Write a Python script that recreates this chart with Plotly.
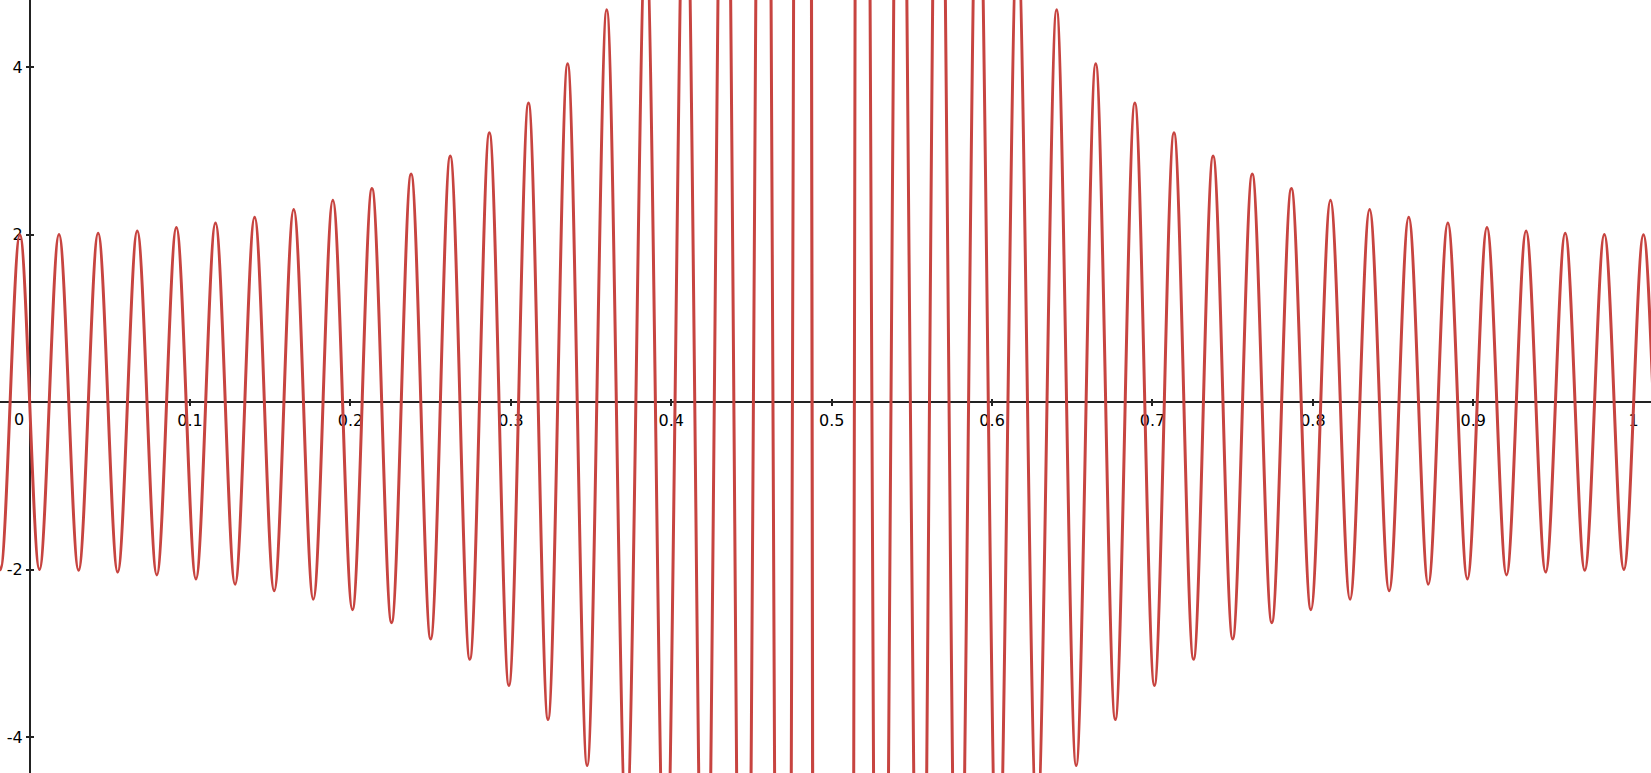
import plotly.graph_objects as go

# Extrema of the oscillating curve (x, y);
# peaks that leave the visible window were estimated from the growth trend.
peak_x = [
    -0.03049, -0.01829, -0.00610, 0.00610, 0.01829, 0.03049, 0.04268, 0.05488,
    0.06707, 0.07927, 0.09146, 0.10366, 0.11585, 0.12805, 0.14024, 0.15244,
    0.16463, 0.17683, 0.18902, 0.20122, 0.21341, 0.22561, 0.23780, 0.25000,
    0.26220, 0.27439, 0.28659, 0.29878, 0.31098, 0.32317, 0.33537, 0.34756,
    0.35976, 0.37195, 0.38415, 0.39634, 0.40870, 0.42092, 0.43315, 0.44540,
    0.45767, 0.47001, 0.48256, 0.50000, 0.51744, 0.52999, 0.54233, 0.55460,
    0.56685, 0.57908, 0.59130, 0.60366, 0.61585, 0.62805, 0.64024, 0.65244,
    0.66463, 0.67683, 0.68902, 0.70122, 0.71341, 0.72561, 0.73780, 0.75000,
    0.76220, 0.77439, 0.78659, 0.79878, 0.81098, 0.82317, 0.83537, 0.84756,
    0.85976, 0.87195, 0.88415, 0.89634, 0.90854, 0.92073, 0.93293, 0.94512,
    0.95732, 0.96951, 0.98171, 0.99390, 1.00610, 1.01829, 1.03049,
]
peak_y = [
    2.009, -2.003, 2.000, -2.000, 2.003, -2.009, 2.018, -2.030,
    2.045, -2.064, 2.086, -2.111, 2.140, -2.174, 2.211, -2.254,
    2.301, -2.354, 2.413, -2.479, 2.552, -2.634, 2.726, -2.828,
    2.942, -3.072, 3.218, -3.384, 3.574, -3.792, 4.044, -4.340,
    4.689, -5.108, 5.618, -6.251, 7.063, -8.124, 9.578, -11.687,
    15.02, -21.08, 35.65, -164.0, 35.65, -21.08, 15.02, -11.687,
    9.578, -8.124, 7.063, -6.251, 5.618, -5.108, 4.689, -4.340,
    4.044, -3.792, 3.574, -3.384, 3.218, -3.072, 2.942, -2.828,
    2.726, -2.634, 2.552, -2.479, 2.413, -2.354, 2.301, -2.254,
    2.211, -2.174, 2.140, -2.111, 2.086, -2.064, 2.045, -2.030,
    2.018, -2.009, 2.003, -2.000, 2.000, -2.003, 2.009,
]

x_tick_vals = [0.1, 0.2, 0.3, 0.4, 0.5, 0.6, 0.7, 0.8, 0.9, 1.0]
x_tick_text = ["0.1", "0.2", "0.3", "0.4", "0.5", "0.6", "0.7", "0.8", "0.9", "1"]
y_tick_vals = [-4, -2, 2, 4]
y_tick_text = ["-4", "-2", "2", "4"]

x_range = [-0.0185, 1.0108]
y_range = [-4.43, 4.805]

CURVE = "#c74440"
AXIS = "#222222"
FONT = dict(family="DejaVu Sans", size=16, color="#000000")

# paper positions of the origin lines
pos_x_axis = (0 - y_range[0]) / (y_range[1] - y_range[0])
pos_y_axis = (0 - x_range[0]) / (x_range[1] - x_range[0])

fig = go.Figure()
fig.add_trace(go.Scatter(
    x=peak_x, y=peak_y, mode="lines",
    line=dict(color=CURVE, width=3, shape="spline", smoothing=1.0, simplify=False),
    hoverinfo="skip",
))
# helper trace so the overlay axes (ticks on the other side) get drawn
fig.add_trace(go.Scatter(x=[None], y=[None], xaxis="x2", yaxis="y2",
                         mode="lines", hoverinfo="skip"))

common = dict(showgrid=False, zeroline=False, layer="below traces",
              tickcolor=AXIS, tickwidth=1.5, ticklen=3)

fig.update_layout(
    width=1651, height=773,
    margin=dict(l=0, r=0, t=0, b=0, pad=0),
    paper_bgcolor="white", plot_bgcolor="white",
    showlegend=False,
    xaxis=dict(range=x_range, anchor="free", position=pos_x_axis,
               showline=True, linecolor=AXIS, linewidth=1.5,
               ticks="outside", tickmode="array", tickvals=x_tick_vals,
               ticktext=x_tick_text, tickfont=FONT, ticklabelstandoff=1, **common),
    yaxis=dict(range=y_range, anchor="free", position=pos_y_axis,
               showline=True, linecolor=AXIS, linewidth=1.5,
               ticks="outside", tickmode="array", tickvals=y_tick_vals,
               ticktext=y_tick_text, tickfont=FONT, ticklabelstandoff=0, **common),
    xaxis2=dict(range=x_range, overlaying="x", anchor="free", position=pos_x_axis,
                showline=False, ticks="inside", tickmode="array",
                tickvals=x_tick_vals, showticklabels=False, **common),
    yaxis2=dict(range=y_range, overlaying="y", anchor="free", position=pos_y_axis,
                showline=False, ticks="inside", tickmode="array",
                tickvals=y_tick_vals, showticklabels=False, **common),
    annotations=[dict(x=0, y=0, xref="x", yref="y", text="0", showarrow=False,
                      xanchor="right", yanchor="middle", xshift=-4, yshift=-17,
                      font=FONT)],
)

fig.write_html("out.html", config={"displayModeBar": False})
